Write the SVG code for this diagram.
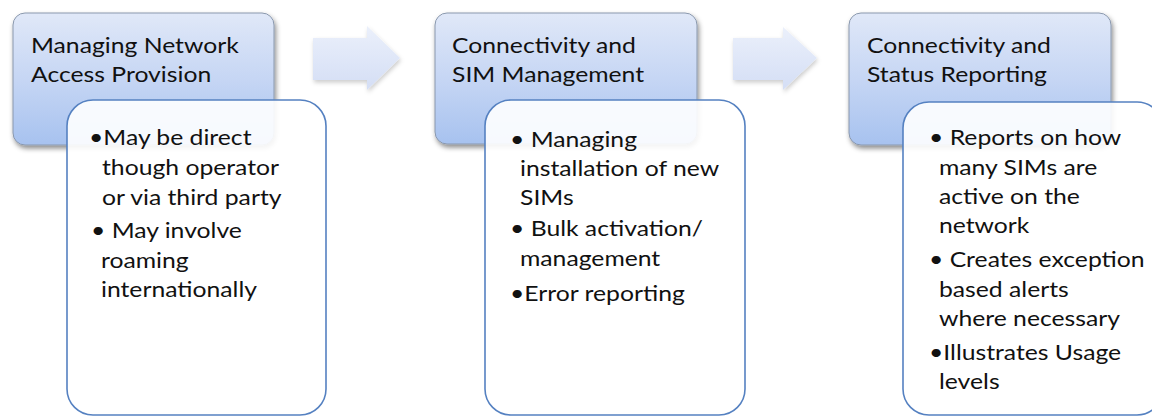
<svg xmlns="http://www.w3.org/2000/svg" width="1152" height="418" viewBox="0 0 1152 418">
  <style>
    .hdr { fill: url(#hdrGrad); stroke: #8a98ad; stroke-width: 1; filter: url(#shadow); }
    .card { fill: #ffffff; fill-opacity: 0.9; stroke: #5581c1; stroke-width: 1.6; }
    .arrow { fill: url(#arrGrad); filter: url(#softShadow); }
    text { font-family: Lato, "Open Sans", sans-serif; fill: #111111; font-size: 21.5px; }
  </style>
  <defs>
    <linearGradient id="hdrGrad" x1="0" y1="0" x2="0" y2="1">
      <stop offset="0" stop-color="#e0e8f8"/>
      <stop offset="0.5" stop-color="#c6d6f4"/>
      <stop offset="1" stop-color="#a7c2ef"/>
    </linearGradient>
    <linearGradient id="arrGrad" x1="0" y1="0" x2="0" y2="1">
      <stop offset="0" stop-color="#ebf0fb"/>
      <stop offset="1" stop-color="#d4def5"/>
    </linearGradient>
    <filter id="shadow" x="-10%" y="-10%" width="125%" height="130%">
      <feDropShadow dx="1.5" dy="3" stdDeviation="2.5" flood-color="#000000" flood-opacity="0.45"/>
    </filter>
    <filter id="softShadow" x="-10%" y="-20%" width="130%" height="150%">
      <feDropShadow dx="1" dy="2.5" stdDeviation="2" flood-color="#000000" flood-opacity="0.2"/>
    </filter>
  </defs>

  <!-- flow arrows between stages -->
  <g id="connectors">
    <path class="arrow" d="M313,38 H367 V26 L400,58 L367,90 V80 H313 Z"/>
    <path class="arrow" d="M733,38 H783 V27 L817,58 L783,90 V80 H733 Z"/>
  </g>

  <!-- stage 1 -->
  <g id="stage1">
    <rect class="hdr" x="13" y="13" width="261" height="132" rx="12"/>
    <text transform="translate(31,53) scale(1.15,1)">Managing Network</text>
    <text transform="translate(31,82) scale(1.15,1)">Access Provision</text>
    <rect class="card" x="67" y="100" width="259" height="315" rx="26"/>
    <text transform="translate(89,145) scale(1.15,1)">•May be direct</text>
    <text transform="translate(102,175) scale(1.15,1)">though operator</text>
    <text transform="translate(102,205) scale(1.15,1)">or via third party</text>
    <text transform="translate(91,238) scale(1.15,1)">• May involve</text>
    <text transform="translate(101,268) scale(1.15,1)">roaming</text>
    <text transform="translate(101,297) scale(1.15,1)">internationally</text>
  </g>

  <!-- stage 2 -->
  <g id="stage2">
    <rect class="hdr" x="435" y="13" width="262" height="131" rx="12"/>
    <text transform="translate(452,53) scale(1.15,1)">Connectivity and</text>
    <text transform="translate(452,82) scale(1.15,1)">SIM Management</text>
    <rect class="card" x="485" y="100" width="260" height="315" rx="26"/>
    <text transform="translate(510,147) scale(1.15,1)">• Managing</text>
    <text transform="translate(520,176) scale(1.15,1)">installation of new</text>
    <text transform="translate(520,205) scale(1.15,1)">SIMs</text>
    <text transform="translate(510,236) scale(1.15,1)">• Bulk activation/</text>
    <text transform="translate(520,266) scale(1.15,1)">management</text>
    <text transform="translate(510,301) scale(1.15,1)">•Error reporting</text>
  </g>

  <!-- stage 3 -->
  <g id="stage3">
    <rect class="hdr" x="849" y="13" width="262" height="132" rx="12"/>
    <text transform="translate(867,53) scale(1.15,1)">Connectivity and</text>
    <text transform="translate(867,82) scale(1.15,1)">Status Reporting</text>
    <rect class="card" x="903" y="102" width="260" height="313" rx="26"/>
    <text transform="translate(929,145) scale(1.15,1)">• Reports on how</text>
    <text transform="translate(939,175) scale(1.15,1)">many SIMs are</text>
    <text transform="translate(939,204) scale(1.15,1)">active on the</text>
    <text transform="translate(939,233) scale(1.15,1)">network</text>
    <text transform="translate(929,267) scale(1.15,1)">• Creates exception</text>
    <text transform="translate(939,297) scale(1.15,1)">based alerts</text>
    <text transform="translate(939,326) scale(1.15,1)">where necessary</text>
    <text transform="translate(929,360) scale(1.15,1)">•Illustrates Usage</text>
    <text transform="translate(939,389) scale(1.15,1)">levels</text>
  </g>
</svg>
